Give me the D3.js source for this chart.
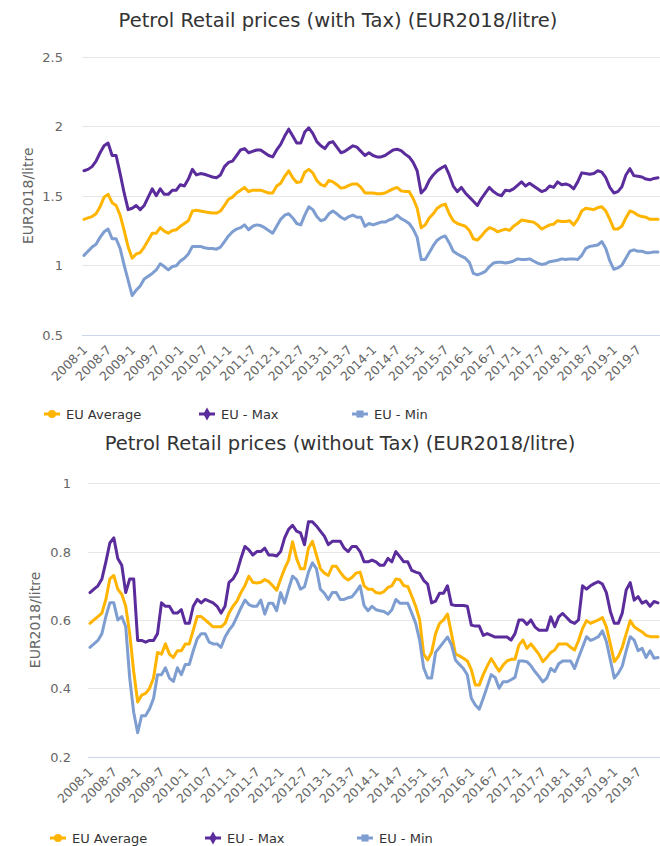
<!DOCTYPE html>
<html>
<head>
<meta charset="utf-8">
<script src="https://cdn.jsdelivr.net/npm/d3@7"></script>
<style>
  body { margin: 0; background: #fff; }
  svg { display: block; }
  text { font-family: "DejaVu Sans", "Noto Sans", sans-serif; }
</style>
</head>
<body>
<svg id="chart" width="660" height="846"></svg>
<script>
// Monthly categories, January 2008 to December 2019
const years = [2008, 2009, 2010, 2011, 2012, 2013, 2014, 2015, 2016, 2017, 2018, 2019];
const monthNumbers = [1, 2, 3, 4, 5, 6, 7, 8, 9, 10, 11, 12];
const categories = years.flatMap(y => monthNumbers.map(m => `${y}-${m}`));
const tickLabels = ["2008-1","2008-7","2009-1","2009-7","2010-1","2010-7","2011-1","2011-7",
  "2012-1","2012-7","2013-1","2013-7","2014-1","2014-7","2015-1","2015-7",
  "2016-1","2016-7","2017-1","2017-7","2018-1","2018-7","2019-1","2019-7"];

const seriesNames = ["EU Average", "EU - Max", "EU - Min"];

// Retail prices including taxes, EUR2018 per litre
const taxAverage = [
  1.33,1.34,1.35,1.37,1.42,1.49,1.51,1.45,1.43,1.36,1.25,1.13,
  1.05,1.08,1.09,1.13,1.18,1.23,1.23,1.27,1.245,1.23,1.25,1.255,
  1.28,1.30,1.32,1.39,1.395,1.39,1.385,1.38,1.375,1.375,1.39,1.43,
  1.475,1.49,1.52,1.54,1.56,1.53,1.54,1.54,1.54,1.53,1.52,1.52,
  1.57,1.59,1.64,1.68,1.63,1.595,1.60,1.67,1.69,1.665,1.61,1.58,
  1.57,1.61,1.60,1.58,1.555,1.56,1.575,1.585,1.585,1.56,1.52,1.52,
  1.52,1.515,1.515,1.52,1.535,1.55,1.56,1.535,1.53,1.53,1.48,1.41,
  1.27,1.29,1.34,1.37,1.41,1.43,1.44,1.37,1.32,1.30,1.29,1.28,
  1.25,1.19,1.18,1.21,1.245,1.27,1.26,1.24,1.25,1.26,1.25,1.28,
  1.30,1.325,1.32,1.315,1.31,1.29,1.26,1.275,1.29,1.295,1.32,1.315,
  1.315,1.32,1.29,1.33,1.39,1.41,1.405,1.40,1.415,1.42,1.39,1.33,
  1.26,1.26,1.28,1.34,1.39,1.38,1.36,1.35,1.345,1.33,1.33,1.33
];
const taxMax = [
  1.68,1.69,1.71,1.75,1.81,1.86,1.88,1.79,1.79,1.66,1.52,1.40,
  1.41,1.43,1.40,1.43,1.49,1.55,1.50,1.55,1.51,1.51,1.54,1.54,
  1.58,1.57,1.62,1.69,1.65,1.66,1.655,1.645,1.635,1.63,1.65,1.71,
  1.74,1.75,1.79,1.83,1.84,1.81,1.82,1.83,1.83,1.81,1.79,1.78,
  1.83,1.87,1.93,1.98,1.93,1.88,1.88,1.96,1.99,1.95,1.89,1.86,
  1.84,1.88,1.89,1.85,1.81,1.82,1.84,1.86,1.85,1.82,1.79,1.81,
  1.79,1.78,1.78,1.79,1.81,1.83,1.835,1.825,1.80,1.78,1.74,1.68,
  1.52,1.55,1.61,1.65,1.68,1.70,1.715,1.65,1.57,1.53,1.56,1.52,
  1.49,1.46,1.43,1.48,1.52,1.56,1.53,1.51,1.50,1.54,1.535,1.55,
  1.575,1.60,1.57,1.59,1.57,1.55,1.53,1.54,1.57,1.56,1.60,1.58,
  1.585,1.575,1.55,1.60,1.665,1.66,1.655,1.66,1.68,1.67,1.63,1.56,
  1.52,1.53,1.565,1.65,1.695,1.645,1.64,1.635,1.62,1.615,1.625,1.63
];
const taxMin = [
  1.07,1.10,1.13,1.15,1.20,1.24,1.26,1.19,1.19,1.12,1.00,0.89,
  0.78,0.82,0.85,0.90,0.92,0.94,0.965,1.01,0.99,0.965,0.99,0.995,
  1.03,1.05,1.08,1.135,1.135,1.135,1.125,1.12,1.12,1.115,1.13,1.17,
  1.21,1.24,1.26,1.27,1.29,1.255,1.28,1.29,1.285,1.27,1.25,1.23,
  1.28,1.33,1.36,1.37,1.34,1.30,1.29,1.36,1.42,1.40,1.35,1.32,
  1.33,1.37,1.39,1.37,1.345,1.33,1.35,1.36,1.345,1.345,1.28,1.30,
  1.29,1.30,1.31,1.31,1.325,1.335,1.36,1.335,1.32,1.30,1.26,1.20,
  1.04,1.04,1.09,1.14,1.18,1.20,1.21,1.16,1.10,1.08,1.065,1.05,
  1.02,0.94,0.93,0.94,0.955,0.99,1.015,1.02,1.02,1.015,1.02,1.03,
  1.045,1.04,1.04,1.045,1.03,1.015,1.005,1.01,1.025,1.03,1.035,1.045,
  1.04,1.045,1.045,1.04,1.07,1.12,1.135,1.14,1.145,1.17,1.12,1.03,
  0.97,0.98,1.00,1.05,1.10,1.11,1.10,1.10,1.09,1.09,1.095,1.095
];

// Retail prices excluding taxes, EUR2018 per litre
const netAverage = [
  0.59,0.60,0.61,0.62,0.66,0.72,0.73,0.69,0.675,0.64,0.56,0.45,
  0.36,0.38,0.385,0.40,0.43,0.505,0.50,0.53,0.50,0.49,0.51,0.51,
  0.53,0.53,0.57,0.61,0.61,0.60,0.59,0.58,0.58,0.58,0.59,0.62,
  0.64,0.655,0.68,0.70,0.728,0.71,0.708,0.71,0.718,0.712,0.70,0.687,
  0.72,0.75,0.775,0.829,0.78,0.75,0.75,0.81,0.83,0.79,0.75,0.737,
  0.73,0.757,0.757,0.74,0.725,0.717,0.725,0.737,0.74,0.70,0.69,0.69,
  0.68,0.678,0.683,0.695,0.70,0.72,0.718,0.70,0.698,0.67,0.64,0.60,
  0.50,0.483,0.505,0.56,0.59,0.60,0.617,0.56,0.50,0.495,0.488,0.48,
  0.455,0.41,0.41,0.44,0.465,0.487,0.468,0.45,0.468,0.48,0.485,0.485,
  0.527,0.541,0.517,0.53,0.515,0.50,0.478,0.49,0.505,0.512,0.53,0.53,
  0.53,0.52,0.512,0.54,0.575,0.598,0.59,0.595,0.60,0.607,0.58,0.53,
  0.478,0.493,0.52,0.56,0.598,0.58,0.572,0.565,0.555,0.551,0.551,0.551
];
const netMax = [
  0.68,0.69,0.70,0.72,0.77,0.825,0.84,0.78,0.76,0.68,0.72,0.72,
  0.54,0.54,0.535,0.54,0.54,0.56,0.65,0.64,0.64,0.62,0.62,0.63,
  0.59,0.59,0.64,0.66,0.65,0.66,0.655,0.65,0.64,0.62,0.64,0.71,
  0.72,0.74,0.78,0.815,0.805,0.79,0.80,0.80,0.81,0.79,0.79,0.787,
  0.80,0.84,0.865,0.877,0.86,0.855,0.82,0.887,0.887,0.875,0.86,0.845,
  0.82,0.83,0.83,0.83,0.81,0.80,0.815,0.815,0.80,0.77,0.77,0.775,
  0.77,0.76,0.76,0.78,0.77,0.80,0.785,0.77,0.77,0.745,0.74,0.736,
  0.716,0.705,0.65,0.655,0.678,0.678,0.70,0.645,0.642,0.642,0.642,0.64,
  0.585,0.582,0.582,0.555,0.56,0.555,0.55,0.55,0.55,0.55,0.541,0.56,
  0.60,0.60,0.587,0.60,0.58,0.57,0.57,0.57,0.609,0.58,0.609,0.619,
  0.607,0.595,0.59,0.60,0.70,0.69,0.70,0.707,0.712,0.705,0.68,0.625,
  0.59,0.59,0.62,0.688,0.709,0.658,0.668,0.649,0.655,0.64,0.654,0.65
];
const netMin = [
  0.52,0.53,0.54,0.56,0.61,0.65,0.65,0.60,0.61,0.58,0.43,0.33,
  0.27,0.32,0.32,0.34,0.37,0.44,0.44,0.46,0.43,0.42,0.46,0.44,
  0.47,0.47,0.51,0.545,0.56,0.56,0.535,0.53,0.53,0.52,0.55,0.57,
  0.585,0.61,0.635,0.658,0.645,0.64,0.64,0.658,0.617,0.649,0.649,0.627,
  0.68,0.649,0.69,0.728,0.718,0.69,0.697,0.74,0.767,0.75,0.69,0.678,
  0.66,0.68,0.68,0.66,0.66,0.665,0.668,0.683,0.70,0.642,0.627,0.64,
  0.63,0.627,0.625,0.617,0.63,0.66,0.649,0.649,0.649,0.62,0.59,0.54,
  0.46,0.43,0.43,0.505,0.52,0.535,0.55,0.527,0.483,0.47,0.458,0.439,
  0.371,0.351,0.339,0.371,0.405,0.44,0.432,0.40,0.419,0.419,0.425,0.432,
  0.48,0.48,0.478,0.466,0.449,0.435,0.419,0.43,0.458,0.449,0.472,0.48,
  0.48,0.48,0.458,0.49,0.52,0.551,0.54,0.545,0.551,0.568,0.537,0.483,
  0.43,0.444,0.465,0.51,0.551,0.541,0.51,0.517,0.49,0.51,0.488,0.49
];

const taxTicks = [0.5, 1, 1.5, 2, 2.5];
const netTicks = [0.2, 0.4, 0.6, 0.8, 1];

const colors = ["#ffb400", "#5b2c9c", "#7e9dd0"];
const markerShapes = [d3.symbolCircle, d3.symbolDiamond, d3.symbolSquare];

const svg = d3.select("#chart");

function drawPanel(cfg) {
  const g = svg.append("g");

  // Title
  g.append("text")
    .attr("x", cfg.titleX).attr("y", cfg.titleY)
    .attr("text-anchor", "middle")
    .attr("fill", "#333").attr("font-size", 19.5)
    .text(cfg.title);

  const x = d3.scalePoint().domain(categories)
    .range([cfg.left, cfg.right]).padding(0.5);
  const y = d3.scaleLinear().domain(cfg.domain).range([cfg.bottom, cfg.top]);

  // Horizontal grid lines
  g.append("g").selectAll("line")
    .data(cfg.ticks.slice(1))
    .join("line")
    .attr("x1", cfg.left).attr("x2", cfg.right)
    .attr("y1", d => Math.round(y(d)) + 0.5).attr("y2", d => Math.round(y(d)) + 0.5)
    .attr("stroke", "#e6e6e6").attr("stroke-width", 1);

  // Category axis line
  g.append("line")
    .attr("x1", cfg.left).attr("x2", cfg.right)
    .attr("y1", Math.round(y(cfg.domain[0])) + 0.5)
    .attr("y2", Math.round(y(cfg.domain[0])) + 0.5)
    .attr("stroke", "#ccd6eb");

  // Value axis labels
  const yAxis = d3.axisLeft(y).tickValues(cfg.ticks).tickSize(0).tickPadding(0)
    .tickFormat(d3.format("~g"));
  const ya = g.append("g").attr("transform", `translate(${cfg.labelRight},0)`).call(yAxis);
  ya.select(".domain").remove();
  ya.selectAll("text")
    .attr("fill", "#666").attr("font-size", 13)
    .attr("font-family", "DejaVu Sans, sans-serif")
    .attr("dy", "0.35em");

  // Value axis title
  g.append("text")
    .attr("transform", `translate(${cfg.yTitleX},${(cfg.top + cfg.bottom) / 2}) rotate(-90)`)
    .attr("text-anchor", "middle")
    .attr("fill", "#666").attr("font-size", 14)
    .text("EUR2018/litre");

  // Category labels every six months
  const axisY = y(cfg.domain[0]);
  g.append("g").selectAll("text")
    .data(tickLabels)
    .join("text")
    .attr("transform", d => `translate(${x(d) + 4},${axisY + 16}) rotate(-45)`)
    .attr("text-anchor", "end")
    .attr("fill", "#666").attr("font-size", 12.5)
    .text(d => d);

  // Series lines
  const line = d3.line()
    .x((d, i) => x(categories[i]))
    .y(d => y(d));
  cfg.series.forEach((vals, k) => {
    g.append("path")
      .datum(vals)
      .attr("d", line)
      .attr("fill", "none")
      .attr("stroke", colors[k])
      .attr("stroke-width", 3)
      .attr("stroke-linejoin", "round")
      .attr("stroke-linecap", "round");
  });

  // Legend
  const legend = g.append("g").attr("transform", `translate(0,${cfg.legendY})`);
  seriesNames.forEach((name, k) => {
    const item = legend.append("g").attr("transform", `translate(${cfg.legendX[k]},0)`);
    item.append("line")
      .attr("x1", 0).attr("x2", 16).attr("y1", 0).attr("y2", 0)
      .attr("stroke", colors[k]).attr("stroke-width", 3);
    item.append("path")
      .attr("d", d3.symbol().type(markerShapes[k]).size(k === 1 ? 48 : 50)())
      .attr("transform", "translate(8,0)")
      .attr("fill", colors[k]);
    item.append("text")
      .attr("x", 22).attr("y", 0).attr("dy", "0.35em")
      .attr("fill", "#333").attr("font-size", 13)
      .text(name);
  });
}

drawPanel({
  title: "Petrol Retail prices (with Tax) (EUR2018/litre)",
  titleX: 338, titleY: 27,
  left: 82, right: 660, top: 57, bottom: 334.5,
  domain: [0.5, 2.5], ticks: taxTicks,
  labelRight: 63, yTitleX: 33,
  series: [taxAverage, taxMax, taxMin],
  legendY: 414, legendX: [44, 199, 352]
});

drawPanel({
  title: "Petrol Retail prices (without Tax) (EUR2018/litre)",
  titleX: 340, titleY: 450,
  left: 88, right: 660, top: 483.2, bottom: 756.7,
  domain: [0.2, 1], ticks: netTicks,
  labelRight: 71, yTitleX: 40,
  series: [netAverage, netMax, netMin],
  legendY: 838, legendX: [50, 205, 357]
});
</script>
</body>
</html>
